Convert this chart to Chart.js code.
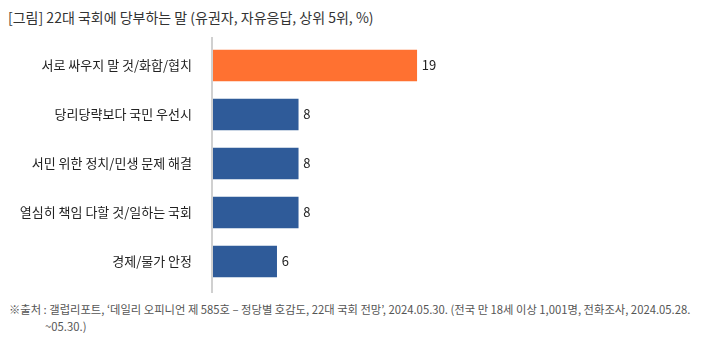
<!DOCTYPE html>
<html>
<head>
<meta charset="utf-8">
<script src="https://cdn.jsdelivr.net/npm/chart.js@4/dist/chart.umd.min.js"></script>
<style>
  body { margin: 0; background: #fff; font-family: 'Noto Sans CJK KR', 'Noto Sans', sans-serif; }
  #wrap { position: relative; width: 701px; height: 342px; overflow: hidden; }
  .title { position: absolute; left: 8px; top: 7px; font-size: 14px; color: #333; }
  #chart { position: absolute; left: 0; top: 37px; }
  .note { position: absolute; left: 9px; top: 301px; font-size: 11.3px; color: #555; line-height: 17px; white-space: nowrap; }
  .note .l2 { padding-left: 36px; }
</style>
</head>
<body>
<div id="wrap">
  <div class="title">[그림] 22대 국회에 당부하는 말 (유권자, 자유응답, 상위 5위, %)</div>
  <canvas id="chart" width="701" height="256"></canvas>
  <div class="note">※출처 : 갤럽리포트, ‘데일리 오피니언 제 585호 – 정당별 호감도, 22대 국회 전망’, 2024.05.30. (전국 만 18세 이상 1,001명, 전화조사, 2024.05.28.<br><span class="l2">~05.30.)</span></div>
</div>
<script>
const categories = ['서로 싸우지 말 것/화합/협치', '당리당략보다 국민 우선시', '서민 위한 정치/민생 문제 해결', '열심히 책임 다할 것/일하는 국회', '경제/물가 안정'];
const values = [19, 8, 8, 8, 6];
const barColors = ['#FF7131', '#2F5B99', '#2F5B99', '#2F5B99', '#2F5B99'];

// value labels + vertical axis line
const extras = {
    id: 'extras',
    afterDatasetsDraw(chart) {
        const ctx = chart.ctx;
        const meta = chart.getDatasetMeta(0);
        ctx.save();
        ctx.font = "13px 'Noto Sans CJK KR', sans-serif";
        ctx.fillStyle = '#222';
        ctx.textBaseline = 'middle';
        meta.data.forEach((bar, i) => {
            ctx.fillText(values[i], bar.x + 5, bar.y);
        });
        ctx.strokeStyle = '#d0d0d0';
        ctx.lineWidth = 2;
        const x = chart.chartArea.left;
        ctx.beginPath();
        ctx.moveTo(x, 0);
        ctx.lineTo(x, chart.height);
        ctx.stroke();
        ctx.restore();
    }
};

new Chart(document.getElementById('chart'), {
    type: 'bar',
    data: {
        labels: categories,
        datasets: [{
            data: values,
            backgroundColor: barColors,
            barThickness: 31
        }]
    },
    options: {
        indexAxis: 'y',
        responsive: false,
        animation: false,
        layout: { padding: { top: 4, bottom: 7, right: 58, left: 0 } },
        plugins: {
            legend: { display: false },
            tooltip: { enabled: false }
        },
        scales: {
            x: {
                min: 0,
                max: 40,
                display: false
            },
            y: {
                grid: { display: false, drawTicks: false },
                border: { display: false },
                afterFit: scale => {
                    scale.width = 212;
                    scale.paddingTop = 0;
                    scale.paddingBottom = 0;
                },
                ticks: {
                    padding: 20,
                    color: '#222',
                    font: { family: "'Noto Sans CJK KR', sans-serif", size: 13 }
                }
            }
        }
    },
    plugins: [extras]
});
</script>
</body>
</html>
